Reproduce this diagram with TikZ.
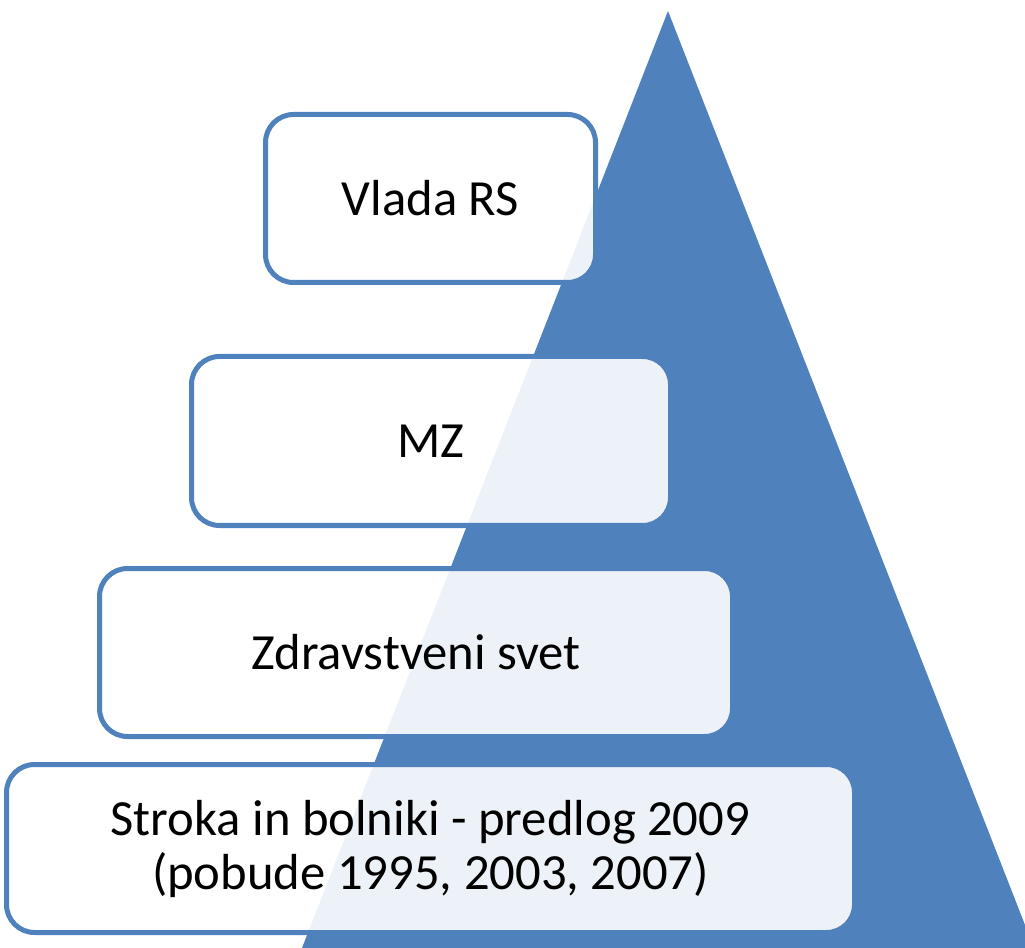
\documentclass[tikz,border=0pt]{standalone}
\usepackage{fontspec}
\setmainfont{Carlito}
\definecolor{accent}{HTML}{4F81BD}
\tikzset{
  levelbox/.style={draw=accent, line width=3.75pt, fill=white, fill opacity=0.9,
    text opacity=1, rounded corners=21pt, inner sep=0pt, align=center,
    font=\fontsize{38}{40.5}\selectfont, text=black},
  pyramid/.style={fill=accent, draw=none}
}
\begin{document}
\begin{tikzpicture}[x=0.75pt,y=-0.75pt]
\useasboundingbox (0,0) rectangle (1025,948);
\fill[pyramid] (668,11) -- (1034,948) -- (302,948) -- cycle;
\node[levelbox, minimum width=247.5pt, minimum height=126pt] (b1) at (430.5,198.5) {Vlada RS};
\node[levelbox, minimum width=359.25pt, minimum height=126.75pt] (b2) at (431,441) {MZ};
\node[levelbox, minimum width=474.75pt, minimum height=126pt] (b3) at (416,652.5) {Zdravstveni svet};
\node[levelbox, minimum width=636pt, minimum height=126pt] (b4) at (430.5,848.5) {Stroka in bolniki - predlog 2009\\(pobude 1995, 2003, 2007)};
\end{tikzpicture}
\end{document}
